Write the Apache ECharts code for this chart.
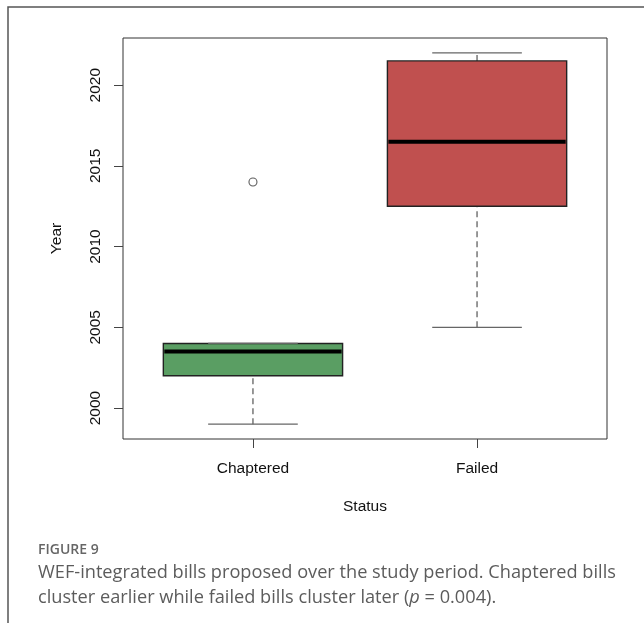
<!DOCTYPE html>
<html>
<head>
<meta charset="utf-8">
<script src="https://cdn.jsdelivr.net/npm/echarts@6/dist/echarts.min.js"></script>
<style>
  html, body { margin: 0; padding: 0; background: #ffffff; }
  #chart { width: 644px; height: 623px; }
</style>
</head>
<body>
<div id="chart"></div>
<script>
// Bill status groups and the year summaries for each box
const categories = ['Chaptered', 'Failed'];
const whiskerLow = [1999, 2005];
const quartile1 = [2002, 2012.5];
const medians = [2003.5, 2016.5];
const quartile3 = [2004, 2021.5];
const whiskerHigh = [2004, 2022];
// Outlying proposals: [group index, year]
const outliers = [[0, 2014]];
const yearTicks = [2000, 2005, 2010, 2015, 2020];

const boxColors = ['#5a9e63', '#c0504f'];

const boxData = categories.map((c, i) => [
  i + 1, whiskerLow[i], quartile1[i], medians[i], quartile3[i], whiskerHigh[i]
]);
const outlierData = outliers.map(o => [o[0] + 1, o[1]]);

const chart = echarts.init(document.getElementById('chart'), null, { renderer: 'canvas' });

function renderBox(params, api) {
  const x = api.value(0);
  const lo = api.coord([x, api.value(1)]);
  const q1 = api.coord([x, api.value(2)]);
  const med = api.coord([x, api.value(3)]);
  const q3 = api.coord([x, api.value(4)]);
  const hi = api.coord([x, api.value(5)]);
  const halfBox = api.size([0.4, 0])[0];
  const halfCap = api.size([0.2, 0])[0];
  const cx = lo[0];
  const whiskerStyle = { stroke: '#555', lineWidth: 1.2, lineDash: [6, 4] };
  const capStyle = { stroke: '#666', lineWidth: 1.3 };
  return {
    type: 'group',
    children: [
      { type: 'line', shape: { x1: cx, y1: lo[1], x2: cx, y2: q1[1] }, style: whiskerStyle },
      { type: 'line', shape: { x1: cx, y1: q3[1], x2: cx, y2: hi[1] }, style: whiskerStyle },
      {
        type: 'rect',
        shape: { x: cx - halfBox, y: q3[1], width: halfBox * 2, height: q1[1] - q3[1] },
        style: { fill: boxColors[params.dataIndex], stroke: '#222', lineWidth: 1.4 }
      },
      { type: 'line', shape: { x1: cx - halfCap, y1: lo[1], x2: cx + halfCap, y2: lo[1] }, style: capStyle },
      { type: 'line', shape: { x1: cx - halfCap, y1: hi[1], x2: cx + halfCap, y2: hi[1] }, style: capStyle },
      {
        type: 'line',
        shape: { x1: cx - halfBox + 1, y1: med[1], x2: cx + halfBox - 1, y2: med[1] },
        style: { stroke: '#000', lineWidth: 4 }
      }
    ]
  };
}

const axisFont = { fontFamily: '"Liberation Sans", Arial, sans-serif', fontSize: 15.5, color: '#111' };
const captionFont = '18.2px "Open Sans", sans-serif';

chart.setOption({
  backgroundColor: '#ffffff',
  animation: false,
  grid: {
    left: 123, top: 38, width: 484, height: 401,
    show: true, borderColor: '#333', borderWidth: 1, backgroundColor: 'transparent'
  },
  xAxis: {
    type: 'value',
    min: 0.42, max: 2.58,
    name: 'Status',
    nameLocation: 'middle',
    nameGap: 60,
    nameTextStyle: axisFont,
    axisLine: { show: false },
    splitLine: { show: false },
    axisTick: { show: true, length: 9, customValues: [1, 2], lineStyle: { color: '#444', width: 1 } },
    axisLabel: {
      customValues: [1, 2],
      margin: 22,
      formatter: v => categories[Math.round(v) - 1],
      ...axisFont
    }
  },
  yAxis: {
    type: 'value',
    min: 1998.08, max: 2022.92,
    name: 'Year',
    nameLocation: 'middle',
    nameGap: 58,
    nameRotate: 90,
    nameTextStyle: axisFont,
    axisLine: { show: false },
    splitLine: { show: false },
    axisTick: { show: true, length: 9, customValues: yearTicks, lineStyle: { color: '#444', width: 1 } },
    axisLabel: {
      customValues: yearTicks,
      rotate: 90,
      align: 'center',
      verticalAlign: 'bottom',
      margin: 19,
      formatter: v => String(v),
      ...axisFont
    }
  },
  series: [
    {
      type: 'custom',
      renderItem: renderBox,
      encode: { x: 0, y: [1, 2, 3, 4, 5] },
      data: boxData,
      z: 2
    },
    {
      type: 'scatter',
      data: outlierData,
      symbol: 'circle',
      symbolSize: 8,
      itemStyle: { color: 'transparent', borderColor: '#333', borderWidth: 1.1 },
      z: 3
    }
  ],
  graphic: [
    {
      type: 'rect',
      shape: { x: 8, y: 7, width: 720, height: 700 },
      style: { fill: 'none', stroke: '#555', lineWidth: 1.5 },
      silent: true
    },
    {
      type: 'text', left: 38, top: 543,
      style: {
        text: 'FIGURE 9',
        font: '600 14px "Open Sans", sans-serif',
        fill: '#666'
      }
    },
    {
      type: 'text', left: 38, top: 564,
      style: {
        text: 'WEF-integrated bills proposed over the study period. Chaptered bills',
        font: captionFont,
        fill: '#5c5c5c'
      }
    },
    {
      type: 'text', left: 38, top: 589,
      style: {
        text: '{n|cluster earlier while failed bills cluster later (}{i|p}{n| = 0.004).}',
        rich: {
          n: { font: captionFont, fill: '#5c5c5c' },
          i: { font: 'italic ' + captionFont, fill: '#5c5c5c' }
        }
      }
    }
  ]
});
</script>
</body>
</html>
